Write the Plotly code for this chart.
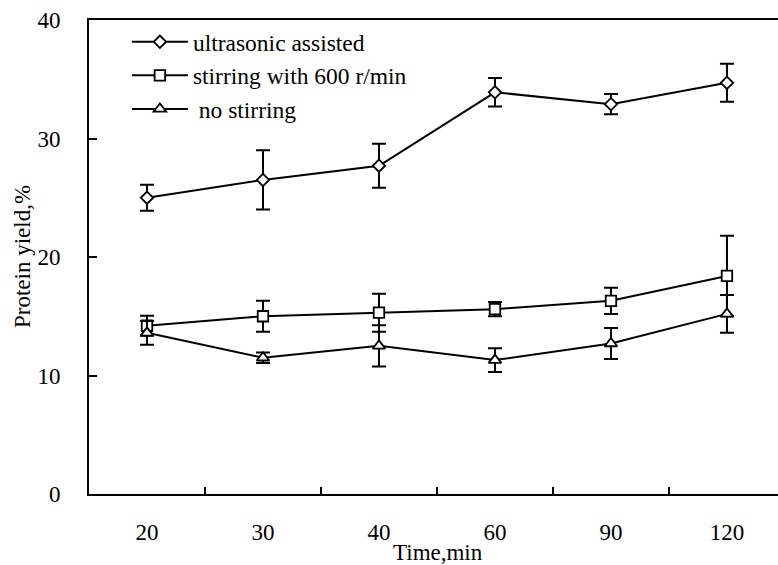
import plotly.graph_objects as go

times = ["20", "30", "40", "60", "90", "120"]
ultrasonic = [25.0, 26.5, 27.7, 33.9, 32.9, 34.7]
ultrasonic_err = [1.1, 2.5, 1.85, 1.2, 0.85, 1.6]
stirring = [14.2, 15.0, 15.3, 15.6, 16.3, 18.4]
stirring_err = [0.85, 1.3, 1.6, 0.6, 1.1, 3.4]
nostir = [13.6, 11.5, 12.5, 11.3, 12.7, 15.2]
nostir_err = [1.0, 0.45, 1.75, 1.0, 1.3, 1.6]

names = ["ultrasonic assisted", "stirring with 600 r/min", " no stirring"]
symbols = ["diamond", "square", "triangle-up"]
sizes = [9.5, 10.5, 11]

FONT = "Liberation Serif"

fig = go.Figure()
for i, (ys, es) in enumerate([(ultrasonic, ultrasonic_err), (stirring, stirring_err), (nostir, nostir_err)]):
    fig.add_trace(go.Scatter(
        x=times, y=ys, name=names[i], mode="lines+markers",
        legendgroup=f"g{i}",
        line=dict(color="black", width=2),
        marker=dict(symbol=symbols[i], size=sizes[i], color="white",
                    line=dict(color="black", width=1.8)),
        error_y=dict(type="data", array=es, visible=True, color="black", thickness=2, width=7),
    ))

fig.update_layout(
    width=778, height=565,
    margin=dict(l=89, r=0, t=20, b=71),
    paper_bgcolor="white", plot_bgcolor="white",
    font=dict(family=FONT, size=23, color="black"),
    showlegend=True,
    legend=dict(x=0.055, y=1.0, xanchor="left", yanchor="top",
                bgcolor="rgba(0,0,0,0)", itemwidth=56, tracegroupgap=0,
                font=dict(family=FONT, size=23.5, color="black")),
    xaxis=dict(type="category", range=[-0.5, 5.44], showline=True, linecolor="black",
               linewidth=2, mirror=True, ticks="inside", ticklen=7, tickwidth=1.5,
               tickcolor="black", tickson="boundaries", showgrid=False, zeroline=False,
               ticklabelstandoff=16, tickfont=dict(family=FONT, size=23, color="black")),
    yaxis=dict(range=[0, 40], tickvals=[0, 10, 20, 30, 40], showline=True,
               linecolor="black", linewidth=2, ticks="inside", ticklen=8, tickwidth=1.5,
               tickcolor="black", showgrid=False, zeroline=False, ticklabelstandoff=22,
               tickfont=dict(family=FONT, size=23, color="black")),
    annotations=[
        dict(text="Time,min", xref="paper", yref="paper", x=0.506, y=0, yshift=-58,
             xanchor="center", yanchor="middle", showarrow=False,
             font=dict(family=FONT, size=23, color="black")),
        dict(text="Protein yield,%", xref="paper", yref="paper", x=0, xshift=-67, y=0.5,
             xanchor="center", yanchor="middle", textangle=-90, showarrow=False,
             font=dict(family=FONT, size=23, color="black")),
    ],
)

fig.write_html("out.html")
